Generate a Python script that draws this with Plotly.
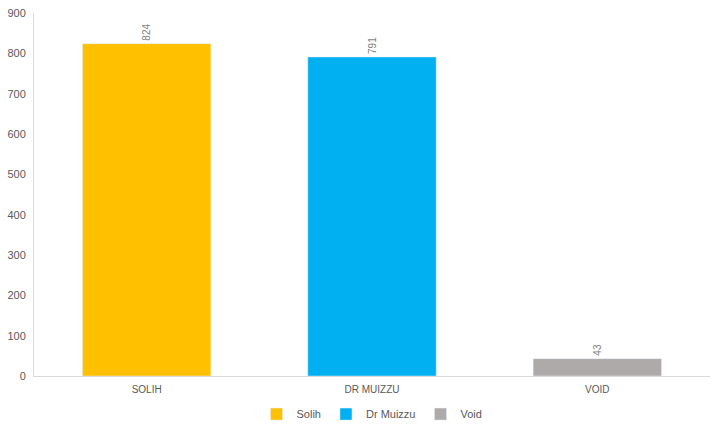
import plotly.graph_objects as go

categories = ["SOLIH", "DR MUIZZU", "VOID"]
names = ["Solih", "Dr Muizzu", "Void"]
votes = [824, 791, 43]
colors = ["#FFC000", "#00B0F0", "#AEAAAA"]

fig = go.Figure()
for cat, name, v, c in zip(categories, names, votes, colors):
    fig.add_trace(go.Bar(
        x=[cat], y=[v], name=name, marker_color=c, width=0.57,
        text=[v], textposition="outside", textangle=-90,
        textfont=dict(size=10, color="#7f7f7f"), cliponaxis=False,
    ))

fig.update_layout(
    width=717, height=433,
    barmode="overlay",
    plot_bgcolor="white", paper_bgcolor="white",
    font=dict(family="Liberation Sans, Arial", size=11, color="#595959"),
    margin=dict(l=34, r=7, t=13, b=57, autoexpand=False),
    showlegend=True,
    legend=dict(orientation="h", x=0.5, xanchor="center", y=-0.105, yanchor="middle",
                font=dict(size=11, color="#595959"), itemwidth=30),
    xaxis=dict(showline=True, linecolor="#d9d9d9", linewidth=1, ticks="",
               automargin=False, ticklabelstandoff=4,
               tickfont=dict(size=10, color="#595959")),
    yaxis=dict(range=[0, 900], dtick=100, showgrid=False, zeroline=False,
               showline=True, linecolor="#d9d9d9", linewidth=1, ticks="",
               automargin=False, ticklabelstandoff=5,
               tickfont=dict(size=11, color="#595959")),
)

# page body has a default margin, drop it so the chart sits at 0,0
fig.write_html("out.html", config={"displayModeBar": False},
               post_script="document.body.style.margin='0';")
